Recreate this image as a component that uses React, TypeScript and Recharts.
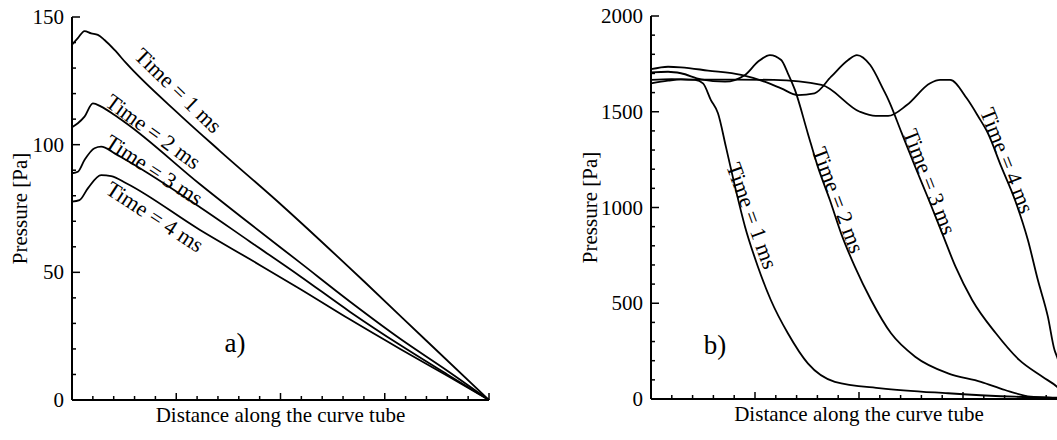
import React from 'react';
import { LineChart, Line, XAxis, YAxis, ReferenceDot, Label } from 'recharts';

const FONT = '"Liberation Serif", "Times New Roman", Times, serif';

// ---- Left chart (a) ----
const aT1X = [0, 0.014, 0.03, 0.046, 0.062, 0.078, 0.102, 0.13, 0.259, 0.355, 0.507, 0.7, 0.85, 1];
const aT1Y = [139.1, 141.7, 144.5, 143.6, 143, 141, 137.1, 131.9, 111.6, 97.5, 75.7, 46.5, 23.2, 0];
const aT2X = [0, 0.014, 0.03, 0.05, 0.07, 0.102, 0.13, 0.307, 0.427, 0.547, 0.667, 0.787, 0.9, 1];
const aT2Y = [106.8, 108.4, 111, 116.2, 114.9, 111.6, 108.4, 84.5, 69, 53.8, 38.5, 24, 11.5, 0];
const aT3X = [0, 0.014, 0.03, 0.054, 0.07, 0.102, 0.13, 0.307, 0.427, 0.547, 0.667, 0.787, 0.9, 1];
const aT3Y = [88.8, 89.4, 94, 98.6, 99.2, 96.6, 94, 75.5, 62, 48.5, 34.5, 21.5, 10, 0];
const aT4X = [0, 0.018, 0.038, 0.07, 0.094, 0.13, 0.307, 0.427, 0.547, 0.667, 0.787, 0.9, 1];
const aT4Y = [77.7, 78.3, 82.9, 88.1, 87.7, 84.9, 66.6, 55.1, 43.5, 31.5, 20, 9.5, 0];

// ---- Right chart (b) ----
const bT1X = [0, 0.041, 0.072, 0.106, 0.125, 0.144, 0.161, 0.18, 0.202, 0.226, 0.257, 0.288, 0.329, 0.377, 0.442, 0.553, 0.714, 0.875, 0.976, 1];
const bT1Y = [1648, 1662, 1669, 1666, 1648, 1561, 1492, 1318, 1109, 900, 691, 517, 343, 186, 90, 56, 30, 12, 7, 3];
const bT2X = [0, 0.041, 0.072, 0.12, 0.178, 0.226, 0.257, 0.286, 0.313, 0.329, 0.346, 0.377, 0.401, 0.43, 0.457, 0.49, 0.529, 0.577, 0.635, 0.714, 0.793, 0.851, 0.913, 0.976, 1];
const bT2Y = [1706, 1709, 1701, 1669, 1657, 1692, 1761, 1796, 1770, 1701, 1614, 1387, 1213, 1039, 865, 691, 517, 343, 221, 134, 90, 47, 12, 4, 0];
const bT3X = [0, 0.041, 0.072, 0.137, 0.217, 0.273, 0.313, 0.353, 0.393, 0.433, 0.474, 0.495, 0.527, 0.559, 0.571, 0.603, 0.635, 0.668, 0.7, 0.732, 0.772, 0.829, 0.885, 0.941, 0.976, 1];
const bT3Y = [1722, 1735, 1732, 1715, 1692, 1657, 1622, 1587, 1596, 1683, 1770, 1796, 1744, 1614, 1561, 1387, 1213, 1039, 865, 691, 517, 343, 204, 116, 64, 10];
const bT4X = [0, 0.05, 0.1, 0.2, 0.295, 0.41, 0.502, 0.54, 0.57, 0.615, 0.671, 0.695, 0.719, 0.759, 0.787, 0.81, 0.842, 0.875, 0.906, 0.93, 0.954, 0.97, 0.976, 1];
const bT4Y = [1666, 1670, 1668, 1668, 1666, 1640, 1500, 1478, 1478, 1535, 1649, 1666, 1666, 1570, 1474, 1387, 1213, 1039, 830, 621, 430, 256, 221, 40];

// ticks
const xTicks = [0, 0.05, 0.1, 0.15, 0.2, 0.25, 0.3, 0.35, 0.4, 0.45, 0.5, 0.55, 0.6, 0.65, 0.7, 0.75, 0.8, 0.85, 0.9, 0.95, 1];
const aYTicks = [0, 10, 20, 30, 40, 50, 60, 70, 80, 90, 100, 110, 120, 130, 140, 150];
const bYTicks = [0, 100, 200, 300, 400, 500, 600, 700, 800, 900, 1000, 1100, 1200, 1300, 1400, 1500, 1600, 1700, 1800, 1900, 2000];

// curve labels
const seriesNames = ['Time = 1 ms', 'Time = 2 ms', 'Time = 3 ms', 'Time = 4 ms'];
const aLabelX = [0.255, 0.195, 0.197, 0.199];
const aLabelY = [121.2, 105.1, 90.1, 71.8];
const aLabelAngle = [44, 36, 33, 33];
const bLabelX = [0.243, 0.45, 0.67, 0.856];
const bLabelY = [957, 1039, 1135, 1245];
const bLabelAngle = [70, 69.4, 68.8, 68.4];

const zip = (xs: number[], ys: number[]) => xs.map((x, i) => ({ x, y: ys[i] }));

const aSeries = [zip(aT1X, aT1Y), zip(aT2X, aT2Y), zip(aT3X, aT3Y), zip(aT4X, aT4Y)];
const bSeries = [zip(bT1X, bT1Y), zip(bT2X, bT2Y), zip(bT3X, bT3Y), zip(bT4X, bT4Y)];

const isMult = (v: number, step: number) => Math.abs(v / step - Math.round(v / step)) < 1e-6;

const textStyle = (size: number): React.CSSProperties => ({ fontFamily: FONT, fontSize: size, fill: '#000' });

const makeYTick = (majorStep: number) => (props: any) => {
  const { x, y, payload } = props;
  const v = payload.value;
  const major = isMult(v, majorStep);
  return (
    <g>
      <line x1={x} x2={x + (major ? 8 : 4)} y1={y} y2={y} stroke="#000" strokeWidth={1.5} />
      {major && (
        <text x={x - 8} y={y} textAnchor="end" dominantBaseline="central" style={textStyle(21)}>
          {v}
        </text>
      )}
    </g>
  );
};

const XTick = (props: any) => {
  const { x, y, payload } = props;
  const major = isMult(payload.value, 0.25);
  return <line x1={x} x2={x} y1={y} y2={y - (major ? 7 : 4)} stroke="#000" strokeWidth={1.5} />;
};

const rotLabel = (text: string, angle: number, size: number) => (props: any) => {
  const vb = props.viewBox || {};
  const cx = vb.cx !== undefined ? vb.cx : vb.x + (vb.width || 0) / 2;
  const cy = vb.cy !== undefined ? vb.cy : vb.y + (vb.height || 0) / 2;
  return (
    <text
      x={cx}
      y={cy}
      transform={`rotate(${angle}, ${cx}, ${cy})`}
      textAnchor="middle"
      dominantBaseline="central"
      style={textStyle(size)}
    >
      {text}
    </text>
  );
};

const xTitle = (props: any) => {
  const vb = props.viewBox;
  return (
    <text x={vb.x + vb.width / 2} y={vb.y + 22} textAnchor="middle" style={textStyle(21)}>
      Distance along the curve tube
    </text>
  );
};

const yTitle = (offset: number) => (props: any) => {
  const vb = props.viewBox;
  const cx = vb.x + offset;
  const cy = vb.y + vb.height / 2;
  return (
    <text x={cx} y={cy} transform={`rotate(-90, ${cx}, ${cy})`} textAnchor="middle" dominantBaseline="central" style={textStyle(21)}>
      Pressure [Pa]
    </text>
  );
};

export default function App() {
  return (
    <div style={{ position: 'absolute', left: 0, top: 0, width: 1057, height: 440, overflow: 'hidden', background: '#fff', fontFamily: FONT }}>
      <div style={{ position: 'absolute', left: 0, top: 0 }}>
        <LineChart width={520} height={440} margin={{ top: 17, right: 31, left: 0, bottom: 0 }} style={{ fontFamily: FONT }}>
          <XAxis
            type="number"
            dataKey="x"
            domain={[0, 1]}
            ticks={xTicks}
            interval={0}
            height={40}
            tickSize={0}
            tickMargin={0}
            tickLine={false}
            tick={XTick}
            axisLine={{ stroke: '#000', strokeWidth: 2 }}
            allowDuplicatedCategory={false}
          >
            <Label content={xTitle} />
          </XAxis>
          <YAxis
            type="number"
            domain={[0, 150]}
            ticks={aYTicks}
            interval={0}
            width={72}
            tickSize={0}
            tickMargin={0}
            tickLine={false}
            tick={makeYTick(50)}
            axisLine={{ stroke: '#000', strokeWidth: 2 }}
          >
            <Label content={yTitle(20)} />
          </YAxis>
          {aSeries.map((d, i) => (
            <Line key={i} data={d} dataKey="y" type="monotone" stroke="#000" strokeWidth={1.8} dot={false} isAnimationActive={false} />
          ))}
          {seriesNames.map((n, i) => (
            <ReferenceDot key={'l' + i} x={aLabelX[i]} y={aLabelY[i]} r={1} fill="none" stroke="none" label={{ content: rotLabel(n, aLabelAngle[i], 22) }} />
          ))}
          <ReferenceDot x={0.391} y={22.3} r={1} fill="none" stroke="none" label={{ content: rotLabel('a)', 0, 27) }} />
        </LineChart>
      </div>
      <div style={{ position: 'absolute', left: 560, top: 0 }}>
        <LineChart width={520} height={440} margin={{ top: 16, right: 13, left: 0, bottom: 0 }} style={{ fontFamily: FONT }}>
          <XAxis
            type="number"
            dataKey="x"
            domain={[0, 1]}
            ticks={xTicks}
            interval={0}
            height={41}
            tickSize={0}
            tickMargin={0}
            tickLine={false}
            tick={XTick}
            axisLine={{ stroke: '#000', strokeWidth: 2 }}
            allowDuplicatedCategory={false}
          >
            <Label content={xTitle} />
          </XAxis>
          <YAxis
            type="number"
            domain={[0, 2000]}
            ticks={bYTicks}
            interval={0}
            width={91}
            tickSize={0}
            tickMargin={0}
            tickLine={false}
            tick={makeYTick(500)}
            axisLine={{ stroke: '#000', strokeWidth: 2 }}
          >
            <Label content={yTitle(30)} />
          </YAxis>
          {bSeries.map((d, i) => (
            <Line key={i} data={d} dataKey="y" type="monotone" stroke="#000" strokeWidth={1.8} dot={false} isAnimationActive={false} />
          ))}
          {seriesNames.map((n, i) => (
            <ReferenceDot key={'l' + i} x={bLabelX[i]} y={bLabelY[i]} r={1} fill="none" stroke="none" label={{ content: rotLabel(n, bLabelAngle[i], 22) }} />
          ))}
          <ReferenceDot x={0.154} y={282} r={1} fill="none" stroke="none" label={{ content: rotLabel('b)', 0, 27) }} />
        </LineChart>
      </div>
    </div>
  );
}
